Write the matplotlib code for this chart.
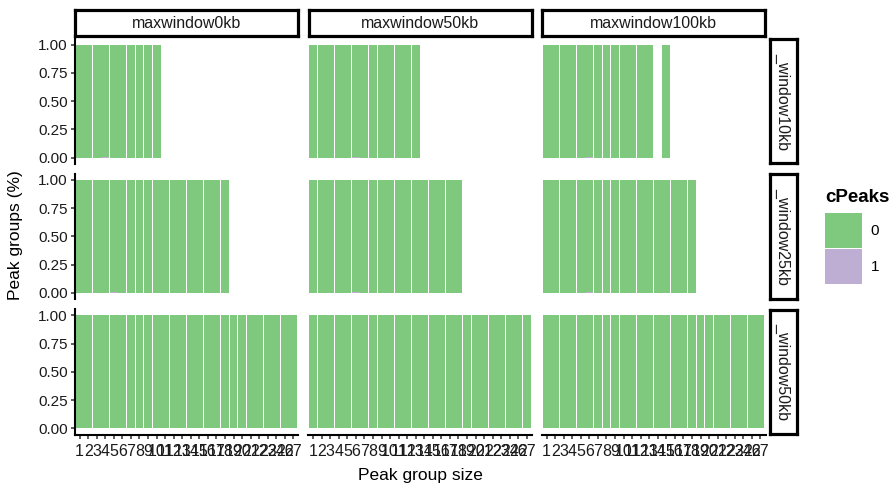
import matplotlib
matplotlib.use('Agg')
import matplotlib.pyplot as plt
from matplotlib.patches import Patch

plt.rcParams['font.family'] = ['Liberation Sans', 'DejaVu Sans']

# x categories (peak group size), 25 is absent
group_sizes = [str(i) for i in range(1, 25)] + ['26', '27']
max_windows = ['maxwindow0kb', 'maxwindow50kb', 'maxwindow100kb']
windows = ['_window10kb', '_window25kb', '_window50kb']

# group sizes present in each panel, per column (maxwindow)
sizes_w10 = [group_sizes[:10], group_sizes[:13], group_sizes[:13] + ['15']]
sizes_w25 = [group_sizes[:18], group_sizes[:18], group_sizes[:18]]
sizes_w50 = [group_sizes, group_sizes, group_sizes]

# share of cPeaks == 1 (tiny slivers), everything else is cPeaks == 0
cpeak1_w10 = [{'4': 0.006}, {'6': 0.006}, {'6': 0.006}]
cpeak1_w25 = [{'5': 0.006}, {'6': 0.006}, {'6': 0.006}]
cpeak1_w50 = [{'5': 0.006}, {'5': 0.006}, {'5': 0.006}]

green = '#7FC97F'
purple = '#BEAED4'

W, H = 890, 486
fig = plt.figure(figsize=(W / 100, H / 100), dpi=100)


def px_axes(x, y, w, h):
    return fig.add_axes([x / W, 1 - (y + h) / H, w / W, h / H])


col_x = [74.5, 308.0, 541.5]
row_y = [38.3, 173.6, 309.0]
pw, ph = 224.0, 125.6

rows_sizes = [sizes_w10, sizes_w25, sizes_w50]
rows_cp1 = [cpeak1_w10, cpeak1_w25, cpeak1_w50]
pos = {s: i + 1 for i, s in enumerate(group_sizes)}

for r in range(3):
    for c in range(3):
        ax = px_axes(col_x[c], row_y[r], pw, ph)
        sizes = rows_sizes[r][c]
        xs = [pos[s] for s in sizes]
        p1 = [rows_cp1[r][c].get(s, 0.0) for s in sizes]
        p0 = [1 - v for v in p1]
        ax.bar(xs, p1, width=0.93, color=purple, linewidth=0)
        ax.bar(xs, p0, bottom=p1, width=0.93, color=green, linewidth=0)
        ax.set_xlim(0.4, len(group_sizes) + 0.6)
        ax.set_ylim(-0.055, 1.055)
        for sp in ax.spines.values():
            sp.set_visible(False)
        ax.set_facecolor('white')
        ax.tick_params(colors='#333333', length=3, width=1.1,
                       labelsize=11, labelcolor='#1a1a1a', pad=2)
        if c == 0:
            ax.spines['left'].set_visible(True)
            ax.spines['left'].set_linewidth(1.5)
            ax.spines['left'].set_color('black')
            ax.set_yticks([0, 0.25, 0.5, 0.75, 1.0])
            ax.set_yticklabels(['0.00', '0.25', '0.50', '0.75', '1.00'])
        else:
            ax.set_yticks([])
        if r == 2:
            ax.spines['bottom'].set_visible(True)
            ax.spines['bottom'].set_linewidth(1.5)
            ax.spines['bottom'].set_color('black')
            ax.set_xticks(range(1, len(group_sizes) + 1))
            ax.set_xticklabels(group_sizes, fontsize=11.5)
            ax.tick_params(axis='x', pad=4)
        else:
            ax.set_xticks([])

# strips on top
for c in range(3):
    s = px_axes(col_x[c] + 0.5, 10.0, pw - 1, 26.5)
    s.set_xticks([]); s.set_yticks([])
    for sp in s.spines.values():
        sp.set_linewidth(2.3); sp.set_color('black')
    s.text(0.5, 0.5, max_windows[c], ha='center', va='center',
           fontsize=11.5, color='#1a1a1a', transform=s.transAxes)

# strips on the right
for r in range(3):
    s = px_axes(770.0, row_y[r] + 0.5, 26.5, ph - 1)
    s.set_xticks([]); s.set_yticks([])
    for sp in s.spines.values():
        sp.set_linewidth(2.3); sp.set_color('black')
    s.text(0.5, 0.5, windows[r], ha='center', va='center', rotation=-90,
           fontsize=11.5, color='#1a1a1a', transform=s.transAxes)

fig.text(420 / W, 1 - 475 / H, 'Peak group size', ha='center', va='center', fontsize=12.5)
fig.text(16 / W, 1 - 235 / H, 'Peak groups (%)', ha='center', va='center',
         rotation=90, fontsize=12.5)

handles = [Patch(facecolor=green, edgecolor='none', label='0'),
           Patch(facecolor=purple, edgecolor='none', label='1')]
leg = fig.legend(handles=handles, title='cPeaks', loc='upper left',
                 bbox_to_anchor=(825 / W, 1 - 189 / H), frameon=False,
                 borderpad=0, borderaxespad=0,
                 fontsize=11, title_fontsize=13.5, handlelength=2.4,
                 handleheight=3.2, handletextpad=0.6, labelspacing=0.02,
                 alignment='left')
leg.get_title().set_fontweight('bold')
leg._legend_box.sep = 5

fig.savefig('out.png', dpi=100, facecolor='white')
